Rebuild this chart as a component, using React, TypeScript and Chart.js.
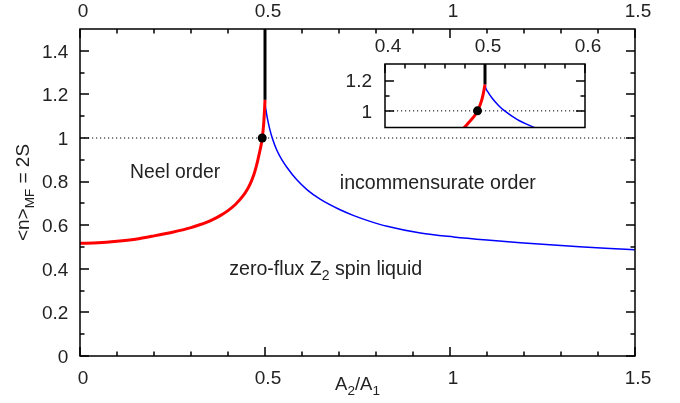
import React, { useEffect, useRef } from "react";
import { Chart, registerables } from "chart.js";
Chart.register(...registerables);

// ---------- data ----------
const neelX = [0, 0.05, 0.1, 0.15, 0.2, 0.25, 0.3, 0.32, 0.34, 0.36, 0.38, 0.4, 0.42, 0.44, 0.45, 0.46, 0.47, 0.475, 0.48, 0.485, 0.49, 0.4925, 0.495, 0.497, 0.499, 0.5];
const neelY = [0.517, 0.519, 0.526, 0.536, 0.551, 0.568, 0.589, 0.6, 0.612, 0.627, 0.645, 0.667, 0.695, 0.733, 0.758, 0.79, 0.833, 0.861, 0.894, 0.932, 0.972, 1.0, 1.037, 1.077, 1.137, 1.175];

const incX = [0.5, 0.5008, 0.5027, 0.507, 0.5135, 0.52, 0.532, 0.545, 0.559, 0.586, 0.614, 0.65, 0.7, 0.74, 0.78, 0.83, 0.92, 1.01, 1.1, 1.19, 1.28, 1.35, 1.42, 1.5];
const incY = [1.175, 1.15, 1.127, 1.085, 1.036, 0.998, 0.944, 0.902, 0.866, 0.808, 0.762, 0.718, 0.673, 0.644, 0.62, 0.595, 0.564, 0.546, 0.532, 0.52, 0.509, 0.501, 0.494, 0.487];

const criticalX = [0.4925];
const criticalY = [1.0];

const cuspX = [0.5, 0.5];
const cuspY = [1.175, 1.5];

const refLineX = [0, 1.5];
const refLineY = [1, 1];
const insetRefLineX = [0.4, 0.6];

// ---------- ticks ----------
const xMajorTicks = [0, 0.5, 1, 1.5];
const xTickLabels = ["0", "0.5", "1", "1.5"];
const xMinorTicks = [0.1, 0.2, 0.3, 0.4, 0.6, 0.7, 0.8, 0.9, 1.1, 1.2, 1.3, 1.4];
const yMajorTicks = [0, 0.2, 0.4, 0.6, 0.8, 1, 1.2, 1.4];
const yTickLabels = ["0", "0.2", "0.4", "0.6", "0.8", "1", "1.2", "1.4"];
const yMinorTicks = [0.1, 0.3, 0.5, 0.7, 0.9, 1.1, 1.3];

const insetXMajorTicks = [0.4, 0.5, 0.6];
const insetXTickLabels = ["0.4", "0.5", "0.6"];
const insetXMinorTicks = [0.42, 0.44, 0.46, 0.48, 0.52, 0.54, 0.56, 0.58];
const insetYMajorTicks = [1, 1.2];
const insetYTickLabels = ["1", "1.2"];
const insetYMinorTicks = [1.1];

// annotations (data coordinates: center x, baseline y)
const neelLabel = { x: 0.257, y: 0.815 };
const incLabel = { x: 0.967, y: 0.766 };
const slLabel = { x: 0.664, y: 0.373 };

const FONT = "'Liberation Sans', Arial, Helvetica, sans-serif";
const TXT = "#222";

const pts = (xs: number[], ys: number[]) => xs.map((x, i) => ({ x, y: ys[i] }));

type Seg = { t: string; sub?: boolean };

function drawRich(ctx: CanvasRenderingContext2D, segs: Seg[], cx: number, by: number, size: number, subSize: number, subDrop: number) {
  let total = 0;
  for (const s of segs) {
    ctx.font = `${s.sub ? subSize : size}px ${FONT}`;
    total += ctx.measureText(s.t).width;
  }
  let x = cx - total / 2;
  ctx.textAlign = "left";
  ctx.textBaseline = "alphabetic";
  for (const s of segs) {
    ctx.font = `${s.sub ? subSize : size}px ${FONT}`;
    ctx.fillText(s.t, x, by + (s.sub ? subDrop : 0));
    x += ctx.measureText(s.t).width;
  }
}

function drawTicks(ctx: CanvasRenderingContext2D, a: any, xs: any, ys: any, xMaj: number[], xMin: number[], yMaj: number[], yMin: number[], maj: number, min: number, bottomTicks: boolean) {
  ctx.beginPath();
  const xt = (vals: number[], len: number) => {
    for (const v of vals) {
      const px = Math.round(xs.getPixelForValue(v));
      if (bottomTicks) {
        ctx.moveTo(px, a.bottom);
        ctx.lineTo(px, a.bottom - len);
      }
      ctx.moveTo(px, a.top);
      ctx.lineTo(px, a.top + len);
    }
  };
  const yt = (vals: number[], len: number) => {
    for (const v of vals) {
      const py = Math.round(ys.getPixelForValue(v));
      ctx.moveTo(a.left, py);
      ctx.lineTo(a.left + len, py);
      ctx.moveTo(a.right, py);
      ctx.lineTo(a.right - len, py);
    }
  };
  xt(xMaj, maj);
  xt(xMin, min);
  yt(yMaj, maj);
  yt(yMin, min);
  ctx.stroke();
}

const mainDecor = {
  id: "mainDecor",
  afterDatasetsDraw(chart: any) {
    const { ctx, chartArea: a, scales } = chart;
    const xs = scales.x;
    const ys = scales.y;
    ctx.save();
    ctx.strokeStyle = "#000";
    ctx.lineWidth = 1.5;
    ctx.strokeRect(a.left, a.top, a.right - a.left, a.bottom - a.top);
    drawTicks(ctx, a, xs, ys, xMajorTicks, xMinorTicks, yMajorTicks, yMinorTicks, 9, 4.5, true);

    ctx.fillStyle = TXT;
    ctx.font = `19px ${FONT}`;
    ctx.textAlign = "center";
    ctx.textBaseline = "alphabetic";
    xMajorTicks.forEach((v, i) => {
      const px = xs.getPixelForValue(v) + 3;
      ctx.fillText(xTickLabels[i], px, a.bottom + 27.5);
      ctx.fillText(xTickLabels[i], px, a.top - 12.2);
    });
    ctx.textAlign = "right";
    yMajorTicks.forEach((v, i) => {
      const py = ys.getPixelForValue(v);
      ctx.fillText(yTickLabels[i], a.left - 11.7, py + 6.8);
    });

    // axis titles
    ctx.fillStyle = TXT;
    drawRich(ctx, [{ t: "A" }, { t: "2", sub: true }, { t: "/A" }, { t: "1", sub: true }], (a.left + a.right) / 2, a.bottom + 34, 18.5, 13.5, 5);

    ctx.save();
    ctx.translate(28.5, 192.5);
    ctx.rotate(-Math.PI / 2);
    drawRich(ctx, [{ t: "<n>" }, { t: "MF", sub: true }, { t: " = 2S" }], 0, 0, 19, 13.5, 5);
    ctx.restore();

    // annotations
    drawRich(ctx, [{ t: "Neel order" }], xs.getPixelForValue(neelLabel.x), ys.getPixelForValue(neelLabel.y), 19.3, 14, 5);
    drawRich(ctx, [{ t: "incommensurate order" }], xs.getPixelForValue(incLabel.x), ys.getPixelForValue(incLabel.y), 19.6, 14, 5);
    drawRich(ctx, [{ t: "zero-flux Z" }, { t: "2", sub: true }, { t: " spin liquid" }], xs.getPixelForValue(slLabel.x), ys.getPixelForValue(slLabel.y), 19.6, 14, 5.5);
    ctx.restore();
  },
};

const insetDecor = {
  id: "insetDecor",
  afterDatasetsDraw(chart: any) {
    const { ctx, chartArea: a, scales } = chart;
    const xs = scales.x;
    const ys = scales.y;
    ctx.save();
    ctx.strokeStyle = "#000";
    ctx.lineWidth = 1.5;
    ctx.strokeRect(a.left, a.top, a.right - a.left, a.bottom - a.top);
    drawTicks(ctx, a, xs, ys, insetXMajorTicks, insetXMinorTicks, insetYMajorTicks, insetYMinorTicks, 9, 4.5, false);
    ctx.fillStyle = TXT;
    ctx.font = `19px ${FONT}`;
    ctx.textAlign = "center";
    ctx.textBaseline = "alphabetic";
    insetXMajorTicks.forEach((v, i) => {
      ctx.fillText(insetXTickLabels[i], xs.getPixelForValue(v) + 3, a.top - 12.5);
    });
    ctx.textAlign = "right";
    insetYMajorTicks.forEach((v, i) => {
      ctx.fillText(insetYTickLabels[i], a.left - 13, ys.getPixelForValue(v) + 6.8);
    });
    ctx.restore();
  },
};

function makeDatasets(refX: number[], clip: number | undefined) {
  const base: any = { showLine: true, pointRadius: 0, fill: false };
  if (clip !== undefined) base.clip = clip;
  return [
    { ...base, label: "critical", data: pts(criticalX, criticalY), showLine: false, pointRadius: 4.5, pointBackgroundColor: "#000", pointBorderWidth: 0, clip: 10 },
    { ...base, label: "Neel", data: pts(neelX, neelY), borderColor: "#ff0000", borderWidth: 3, cubicInterpolationMode: "monotone" },
    { ...base, label: "incommensurate", data: pts(incX, incY), borderColor: "#0000ff", borderWidth: 1.5, cubicInterpolationMode: "monotone" },
    { ...base, label: "cusp", data: pts(cuspX, cuspY), borderColor: "#000", borderWidth: 3 },
    { ...base, label: "ref", data: pts(refX, refLineY), borderColor: "#000", borderWidth: 1, borderDash: [1.2, 2.8] },
  ];
}

function baseOptions(xmin: number, xmax: number, ymin: number, ymax: number, padding: any) {
  return {
    responsive: false,
    animation: false as const,
    devicePixelRatio: 1,
    events: [] as any[],
    layout: { padding },
    plugins: { legend: { display: false }, tooltip: { enabled: false } },
    scales: {
      x: { type: "linear" as const, min: xmin, max: xmax, display: false },
      y: { type: "linear" as const, min: ymin, max: ymax, display: false },
    },
  };
}

export default function App() {
  const mainRef = useRef<HTMLCanvasElement>(null);
  const insetRef = useRef<HTMLCanvasElement>(null);

  useEffect(() => {
    document.body.style.margin = "0";
    const main = new Chart(mainRef.current!, {
      type: "scatter",
      data: { datasets: makeDatasets(refLineX, undefined) as any },
      options: baseOptions(0, 1.5, 0, 1.5, { left: 80, top: 29, right: 45, bottom: 47 }) as any,
      plugins: [mainDecor],
    });
    const inset = new Chart(insetRef.current!, {
      type: "scatter",
      data: { datasets: makeDatasets(insetRefLineX, 0) as any },
      options: baseOptions(0.4, 0.6, 0.89, 1.31, { left: 385, top: 64, right: 95, bottom: 275.5 }) as any,
      plugins: [insetDecor],
    });
    return () => {
      main.destroy();
      inset.destroy();
    };
  }, []);

  return (
    <div style={{ position: "relative", width: 680, height: 403, background: "#fff" }}>
      <canvas ref={mainRef} width={680} height={403} style={{ position: "absolute", left: 0, top: 0 }} />
      <canvas ref={insetRef} width={680} height={403} style={{ position: "absolute", left: 0, top: 0, pointerEvents: "none" }} />
    </div>
  );
}
